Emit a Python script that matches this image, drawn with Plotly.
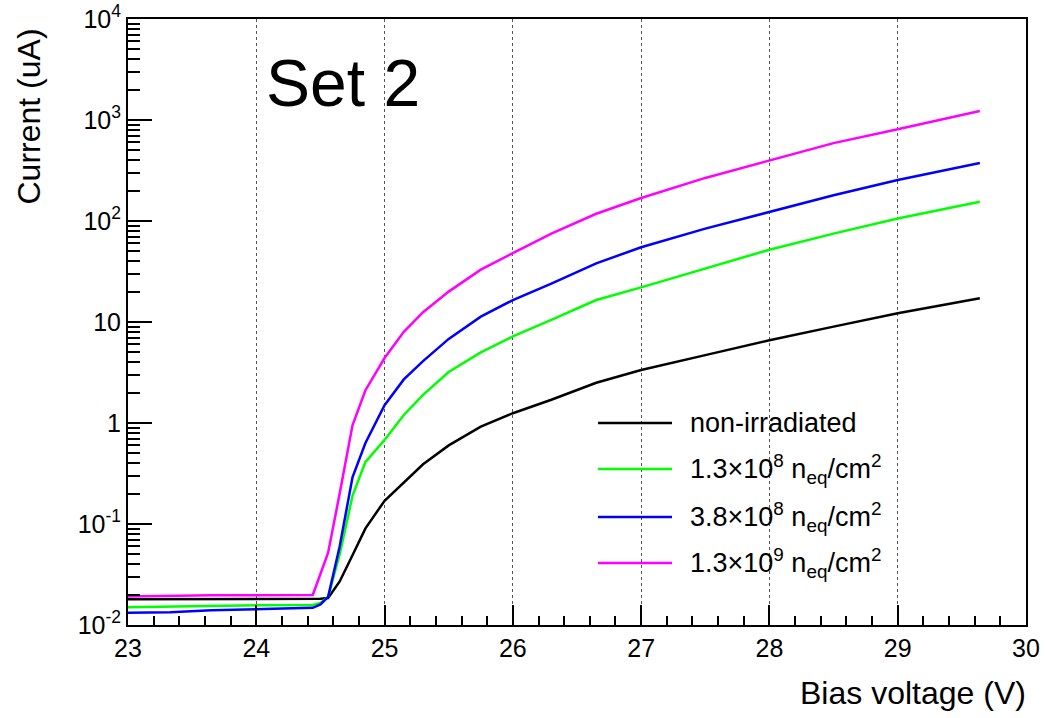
import plotly.graph_objects as go

# ---- data ----
voltage = [23.0, 23.33, 23.65, 24.0, 24.44, 24.5, 24.56, 24.65, 24.75, 24.85,
           25.0, 25.15, 25.3, 25.5, 25.75, 26.0, 26.3, 26.65, 27.0, 27.5,
           28.0, 28.5, 29.0, 29.64]

current_nonirr = [0.0180, 0.0180, 0.0180, 0.0180, 0.0181, 0.0182, 0.0185, 0.027, 0.049, 0.090,
                  0.17, 0.26, 0.39, 0.60, 0.92, 1.25, 1.7, 2.5, 3.35, 4.7,
                  6.6, 9.0, 12.2, 17.2]
current_1p3e8 = [0.0150, 0.0152, 0.0156, 0.0157, 0.0158, 0.0165, 0.019, 0.05, 0.19, 0.41,
                 0.68, 1.2, 1.9, 3.2, 5.0, 7.2, 10.5, 16.5, 22, 34,
                 52, 75, 106, 155]
current_3p8e8 = [0.0132, 0.0134, 0.0140, 0.0143, 0.0148, 0.016, 0.019, 0.06, 0.29, 0.63,
                 1.5, 2.7, 4.1, 6.8, 11.3, 16.5, 24, 38, 55, 84,
                 123, 180, 255, 375]
current_1p3e9 = [0.0192, 0.0195, 0.0197, 0.0197, 0.0198, 0.032, 0.052, 0.20, 0.95, 2.1,
                 4.4, 8.0, 12.5, 20, 33, 48, 75, 118, 169, 267,
                 400, 590, 810, 1230]

series_names = ["non-irradiated",
                "1.3×10<sup>8</sup> n<sub>eq</sub>/cm<sup>2</sup>",
                "3.8×10<sup>8</sup> n<sub>eq</sub>/cm<sup>2</sup>",
                "1.3×10<sup>9</sup> n<sub>eq</sub>/cm<sup>2</sup>"]
series_values = [current_nonirr, current_1p3e8, current_3p8e8, current_1p3e9]
series_colors = ["#000000", "#00ff00", "#0000ff", "#ff00ff"]

x_ticks = [23, 24, 25, 26, 27, 28, 29, 30]
y_tickvals = [0.01, 0.1, 1, 10, 100, 1000, 10000]
y_ticktext = ["10<sup>-2</sup>", "10<sup>-1</sup>", "1", "10",
              "10<sup>2</sup>", "10<sup>3</sup>", "10<sup>4</sup>"]

FONT = "Liberation Sans, Arial, Helvetica, sans-serif"

fig = go.Figure()
for name, vals, col in zip(series_names, series_values, series_colors):
    fig.add_trace(go.Scatter(x=voltage, y=vals, mode="lines", name=name,
                             line=dict(color=col, width=2.5), showlegend=False))

# manual ROOT-style legend
L_LEFT, L_RIGHT, L_TEXT = 0.5234, 0.6058, 0.6236
L_Y = [0.3333, 0.2574, 0.1782, 0.1023]
for name, col, yy in zip(series_names, series_colors, L_Y):
    fig.add_shape(type="line", xref="paper", yref="paper",
                  x0=L_LEFT, x1=L_RIGHT, y0=yy, y1=yy,
                  line=dict(color=col, width=2.5))
    fig.add_annotation(xref="paper", yref="paper", x=L_TEXT, y=yy,
                       xanchor="left", yanchor="middle", text=name, showarrow=False,
                       font=dict(family=FONT, size=27, color="black"))

fig.add_annotation(xref="paper", yref="paper", x=0.152, y=0.895, text="Set 2",
                   xanchor="left", yanchor="middle", showarrow=False,
                   font=dict(family=FONT, size=66, color="black"))
fig.add_annotation(xref="paper", yref="paper", x=-0.110, y=0.988, text="Current (uA)",
                   textangle=-90, xanchor="center", yanchor="top", showarrow=False,
                   font=dict(family=FONT, size=32, color="black"))
fig.add_annotation(xref="paper", yref="paper", x=1.002, y=-0.112, text="Bias voltage (V)",
                   xanchor="right", yanchor="middle", showarrow=False,
                   font=dict(family=FONT, size=32, color="black"))

fig.update_layout(
    width=1045, height=718,
    margin=dict(l=128, r=19, t=19, b=93, autoexpand=False),
    paper_bgcolor="white", plot_bgcolor="white",
    font=dict(family=FONT, size=25, color="black"),
    xaxis=dict(range=[23, 30], tickvals=x_ticks, ticks="inside", ticklen=20,
               tickwidth=2, tickcolor="black", showline=True, linewidth=2,
               linecolor="black", mirror=True, showgrid=True, gridcolor="#555555",
               griddash="dot", gridwidth=1, zeroline=False, automargin=False,
               tickfont=dict(family=FONT, size=25),
               minor=dict(dtick=0.2, ticks="inside", ticklen=9, tickwidth=2,
                          tickcolor="black", showgrid=False)),
    yaxis=dict(type="log", range=[-2, 4], tickvals=y_tickvals, ticktext=y_ticktext,
               ticks="inside", ticklen=24, tickwidth=2, tickcolor="black",
               showline=True, linewidth=2, linecolor="black", mirror=True,
               showgrid=False, zeroline=False, automargin=False,
               tickfont=dict(family=FONT, size=25),
               minor=dict(dtick="D1", ticks="inside", ticklen=12, tickwidth=2,
                          tickcolor="black", showgrid=False)),
)

fig.write_html("out.html")
